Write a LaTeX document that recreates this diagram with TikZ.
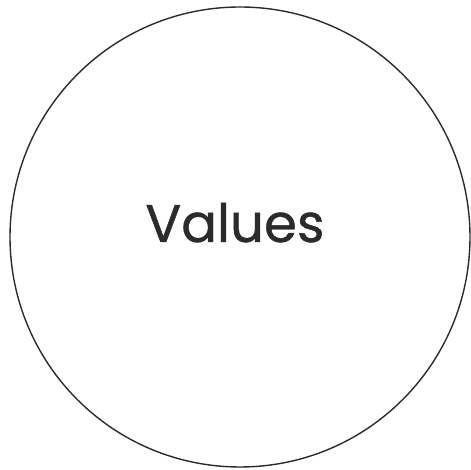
\documentclass[tikz,border=0pt]{standalone}
\usepackage{fontspec}
\setsansfont[FakeBold=0.8]{Poppins}
\usepackage{tikz}
\usetikzlibrary{positioning}
\usepackage{xcolor}
\definecolor{Ink}{HTML}{2B2B2B}
\tikzset{
  valuecircle/.style={circle,draw=Ink,line width=1.4pt,minimum size=460pt,inner sep=0pt},
  valuelabel/.style={text=Ink,font=\sffamily\fontsize{53}{58}\selectfont,inner sep=0pt,anchor=base}
}
\begin{document}
\begin{tikzpicture}[x=1pt,y=1pt]
\useasboundingbox (0,0) rectangle (471,470);
\node[valuecircle] (values) at (240,233) {};
\node[valuelabel] (label) at (235,228) {Values};
\end{tikzpicture}
\end{document}
